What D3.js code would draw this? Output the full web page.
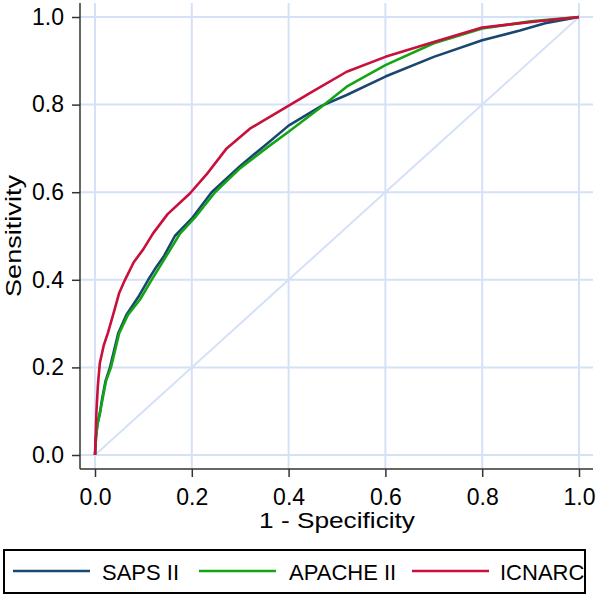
<!DOCTYPE html>
<html>
<head>
<meta charset="utf-8">
<script src="https://cdn.jsdelivr.net/npm/d3@7"></script>
<style>
  html, body { margin: 0; padding: 0; background: #fff; }
  svg { display: block; font-family: "Liberation Sans", Arial, Helvetica, sans-serif; }
</style>
</head>
<body>
<svg id="chart" width="600" height="598"></svg>
<script>
// ---- data ----
const tickValues = [0, 0.2, 0.4, 0.6, 0.8, 1.0];
const xTitle = "1 - Specificity";
const yTitle = "Sensitivity";
const seriesNames = ["SAPS II", "APACHE II", "ICNARC"];
const seriesColors = ["#1a476f", "#14a514", "#c90f3c"];

// [1 - specificity, sensitivity]
const saps2 = [
  [0,0],[0.002,0.04],[0.005,0.07],[0.01,0.095],[0.015,0.13],[0.022,0.17],[0.031,0.2],
  [0.048,0.278],[0.065,0.32],[0.089,0.36],[0.11,0.40],[0.127,0.43],[0.143,0.455],
  [0.165,0.50],[0.2,0.54],[0.241,0.60],[0.3,0.66],[0.348,0.704],[0.4,0.752],
  [0.468,0.797],[0.52,0.822],[0.6,0.864],[0.7,0.909],[0.8,0.947],[0.878,0.969],
  [0.93,0.986],[1,1]
];
const apache2 = [
  [0,0],[0.002,0.04],[0.005,0.07],[0.01,0.095],[0.016,0.13],[0.023,0.17],[0.033,0.2],
  [0.05,0.278],[0.068,0.32],[0.093,0.355],[0.117,0.40],[0.145,0.45],[0.176,0.506],
  [0.205,0.54],[0.248,0.60],[0.3,0.655],[0.358,0.704],[0.4,0.738],[0.468,0.795],
  [0.52,0.841],[0.6,0.89],[0.7,0.94],[0.8,0.974],[0.9,0.99],[1,1]
];
const icnarc = [
  [0,0],[0.001,0.03],[0.003,0.10],[0.006,0.16],[0.01,0.21],[0.018,0.25],[0.027,0.28],
  [0.04,0.33],[0.05,0.37],[0.062,0.40],[0.08,0.44],[0.1,0.47],[0.12,0.506],[0.15,0.55],
  [0.196,0.597],[0.23,0.64],[0.272,0.70],[0.32,0.745],[0.396,0.795],[0.45,0.83],
  [0.52,0.875],[0.6,0.909],[0.7,0.943],[0.8,0.976],[0.92,0.991],[1,1]
];
const diagonal = [[0,0],[1,1]];

// ---- layout ----
const svg = d3.select("#chart");
const x = d3.scaleLinear().domain([0, 1]).range([95, 579]);
const y = d3.scaleLinear().domain([0, 1]).range([455, 17]);
const plotLeft = 80, plotRight = 593, plotTop = 3, plotBottom = 469;
const gridColor = "#d5e1f7";

// grid
const grid = svg.append("g");
grid.selectAll("line.v").data(tickValues).join("line")
  .attr("x1", d => x(d)).attr("x2", d => x(d))
  .attr("y1", plotTop).attr("y2", plotBottom)
  .attr("stroke", gridColor).attr("stroke-width", 2);
grid.selectAll("line.h").data(tickValues).join("line")
  .attr("y1", d => y(d)).attr("y2", d => y(d))
  .attr("x1", plotLeft).attr("x2", plotRight)
  .attr("stroke", gridColor).attr("stroke-width", 2);

const line = d3.line().x(d => x(d[0])).y(d => y(d[1]));

// diagonal reference
svg.append("path").datum(diagonal).attr("d", line)
  .attr("fill", "none").attr("stroke", gridColor).attr("stroke-width", 2);

// ROC curves
[saps2, apache2, icnarc].forEach((s, i) => {
  svg.append("path").datum(s).attr("d", line)
    .attr("fill", "none").attr("stroke", seriesColors[i])
    .attr("stroke-width", 2.6).attr("stroke-linejoin", "round");
});

// axes
const fmt = d3.format(".1f");
const yAxis = svg.append("g").attr("transform", `translate(${plotLeft},0)`)
  .call(d3.axisLeft(y).tickValues(tickValues).tickFormat(fmt).tickSize(8).tickPadding(8));
const xAxis = svg.append("g").attr("transform", `translate(0,${plotBottom})`)
  .call(d3.axisBottom(x).tickValues(tickValues).tickFormat(fmt).tickSize(8).tickPadding(12));
[xAxis, yAxis].forEach(a => {
  a.select(".domain").remove();
  a.selectAll(".tick line").attr("stroke", "#333").attr("stroke-width", 1.5);
  a.selectAll(".tick text").attr("fill", "#000").attr("font-size", 23)
    .attr("font-family", "'Liberation Sans', Arial, sans-serif");
});
svg.append("line").attr("x1", plotLeft).attr("x2", plotLeft)
  .attr("y1", plotTop).attr("y2", plotBottom).attr("stroke", "#333").attr("stroke-width", 1.5);
svg.append("line").attr("x1", plotLeft).attr("x2", plotRight)
  .attr("y1", plotBottom).attr("y2", plotBottom).attr("stroke", "#333").attr("stroke-width", 1.5);

// axis titles
svg.append("text").attr("x", 337).attr("y", 528).attr("text-anchor", "middle")
  .attr("font-size", 22).attr("textLength", 156).attr("lengthAdjust", "spacingAndGlyphs")
  .text(xTitle);
svg.append("text").attr("transform", "translate(21,236) rotate(-90)")
  .attr("text-anchor", "middle").attr("font-size", 22)
  .attr("textLength", 122).attr("lengthAdjust", "spacingAndGlyphs").text(yTitle);

// legend
const lg = svg.append("g");
lg.append("rect").attr("x", 4).attr("y", 550).attr("width", 581).attr("height", 43)
  .attr("fill", "#fff").attr("stroke", "#000").attr("stroke-width", 2);
const legendLineX = [13, 199, 412];
const legendTextX = [102, 289, 500];
seriesNames.forEach((n, i) => {
  lg.append("line").attr("x1", legendLineX[i]).attr("x2", legendLineX[i] + 77)
    .attr("y1", 571).attr("y2", 571).attr("stroke", seriesColors[i]).attr("stroke-width", 2.6);
  lg.append("text").attr("x", legendTextX[i]).attr("y", 579.5)
    .attr("font-size", 22).text(n);
});
</script>
</body>
</html>
